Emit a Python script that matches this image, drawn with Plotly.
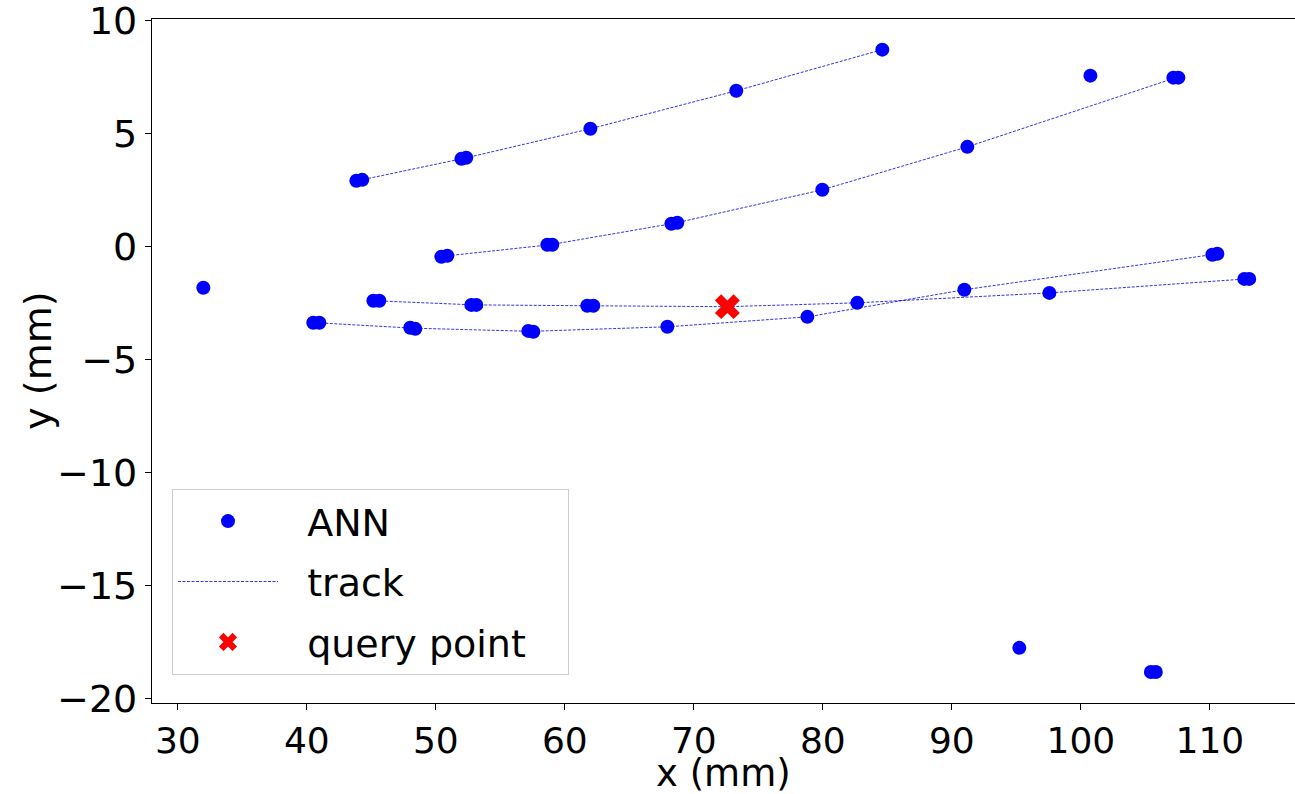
import plotly.graph_objects as go

# ANN hit positions (mm)
ann_x = [43.84, 44.30, 51.98, 52.36, 61.98, 73.29, 84.61,
         50.43, 50.89, 58.64, 59.03, 68.26, 68.72, 79.96, 91.20, 107.17, 107.56,
         100.74,
         45.16, 45.62, 52.75, 53.14, 61.74, 62.21, 82.67, 97.56, 112.67, 113.05,
         40.50, 40.97, 48.02, 48.41, 57.17, 57.56, 67.95, 78.80, 90.97, 110.19, 110.58,
         31.98, 95.23, 105.43, 105.81]
ann_y = [2.92, 2.96, 3.89, 3.94, 5.22, 6.90, 8.72,
         -0.44, -0.40, 0.09, 0.09, 1.02, 1.06, 2.52, 4.42, 7.48, 7.48,
         7.57,
         -2.39, -2.39, -2.57, -2.57, -2.61, -2.61, -2.48, -2.04, -1.42, -1.42,
         -3.36, -3.36, -3.58, -3.63, -3.72, -3.76, -3.54, -3.10, -1.90, -0.35, -0.31,
         -1.81, -17.74, -18.81, -18.81]

# track lines
track1_x = [44.07, 52.17, 61.98, 73.29, 84.61]
track1_y = [2.94, 3.91, 5.22, 6.90, 8.72]
track2_x = [50.89, 58.84, 68.49, 79.96, 91.20, 107.37]
track2_y = [-0.40, 0.09, 1.04, 2.52, 4.42, 7.48]
track3_x = [45.39, 52.95, 61.98, 72.60, 82.67, 97.56, 112.86]
track3_y = [-2.39, -2.57, -2.61, -2.65, -2.48, -2.04, -1.42]
track4_x = [40.74, 48.22, 57.37, 67.95, 78.80, 90.97, 110.39]
track4_y = [-3.36, -3.60, -3.74, -3.54, -3.10, -1.90, -0.33]
tracks = [(track1_x, track1_y), (track2_x, track2_y), (track3_x, track3_y), (track4_x, track4_y)]

query_x = [72.60]
query_y = [-2.65]

x_ticks = [30, 40, 50, 60, 70, 80, 90, 100, 110]
y_ticks = [10, 5, 0, -5, -10, -15, -20]
y_ticklabels = ["10", "5", "0", "\u22125", "\u221210", "\u221215", "\u221220"]

FONT = "DejaVu Sans"
NB = "\u00a0\u00a0"
LINE = dict(color="rgba(0,0,225,0.8)", width=1, dash="3px,1.5px")

fig = go.Figure()

for i, (tx, ty) in enumerate(tracks):
    fig.add_trace(go.Scatter(
        x=tx, y=ty, mode="lines", name=NB + "track", legendgroup="b",
        showlegend=False, line=LINE,
    ))

fig.add_trace(go.Scatter(
    x=ann_x, y=ann_y, mode="markers", name=NB + "ANN", legendgroup="a",
    marker=dict(color="#0000ff", size=14, line=dict(width=0)),
))
fig.add_trace(go.Scatter(
    x=[None], y=[None], mode="lines", name=NB + "track", legendgroup="b",
    line=dict(color="#3333ff", width=1.2, dash="3px,1.5px"),
))
fig.add_trace(go.Scatter(
    x=query_x, y=query_y, mode="markers", name=NB + "query point" + NB + "\u00a0",
    legendgroup="c",
    marker=dict(color="#ff0000", size=22, symbol="x", line=dict(width=0)),
))

fig.update_layout(
    width=1295, height=794,
    margin=dict(l=152, r=0, t=19, b=91, autoexpand=False),
    paper_bgcolor="white", plot_bgcolor="white",
    font=dict(family=FONT, size=38, color="black"),
    showlegend=True,
    legend=dict(
        x=0.0175, y=0.313, xanchor="left", yanchor="top",
        bgcolor="rgba(255,255,255,0.8)", bordercolor="#cccccc", borderwidth=1,
        font=dict(family=FONT, size=38),
        itemwidth=100, tracegroupgap=8,
    ),
    xaxis=dict(
        range=[28.0, 116.6], tickvals=x_ticks,
        showgrid=False, zeroline=False, automargin=False,
        showline=True, linecolor="black", linewidth=1.2, mirror=True,
        ticks="outside", ticklen=6, tickcolor="black",
        tickfont=dict(size=36), ticklabeloverflow="allow",
    ),
    yaxis=dict(
        range=[-20.18, 10.075], tickvals=y_ticks, ticktext=y_ticklabels,
        showgrid=False, zeroline=False, automargin=False,
        showline=True, linecolor="black", linewidth=1.2,
        ticks="outside", ticklen=6, tickcolor="black",
        tickfont=dict(size=38), ticklabeloverflow="allow",
    ),
    annotations=[
        dict(text="x (mm)", xref="paper", yref="paper", x=0.5, y=-0.1035,
             xanchor="center", yanchor="middle", showarrow=False,
             font=dict(family=FONT, size=37)),
        dict(text="y (mm)", xref="paper", yref="paper", x=-0.1, y=0.5,
             xanchor="center", yanchor="middle", showarrow=False, textangle=-90,
             font=dict(family=FONT, size=38)),
    ],
)

fig.write_html(
    "out.html",
    config={"displayModeBar": False},
    post_script="document.body.style.margin='0';document.body.style.overflow='hidden';",
)
